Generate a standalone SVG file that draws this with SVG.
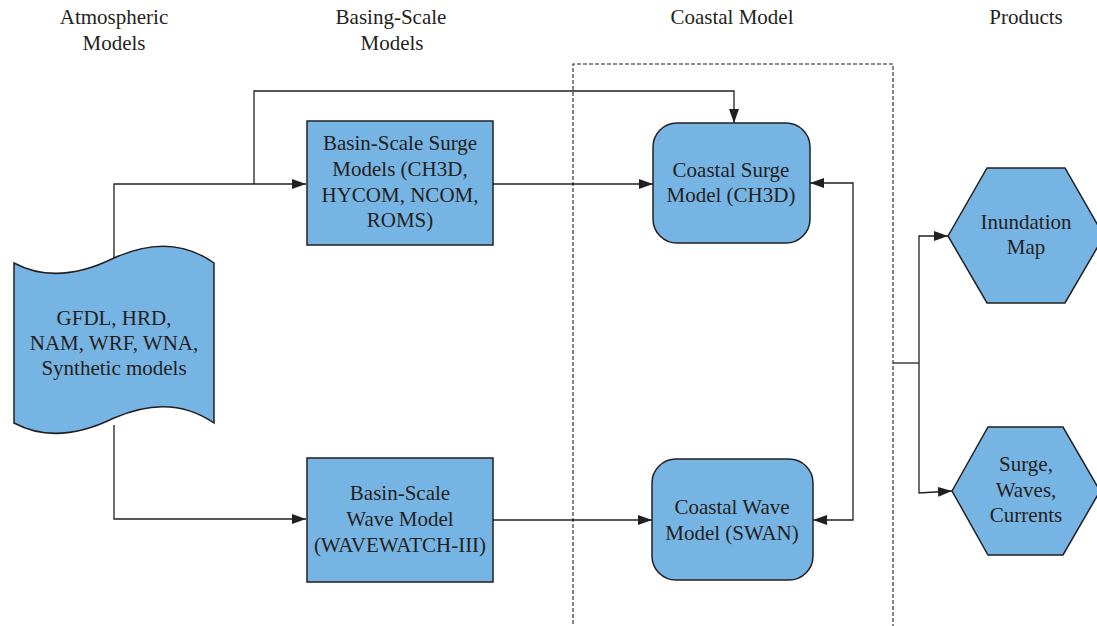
<svg xmlns="http://www.w3.org/2000/svg" width="1097" height="626" viewBox="0 0 1097 626">
<style>
.shape{fill:#76b4e4;stroke:#231f20;stroke-width:1.5}
.t{font-family:"Liberation Serif","Times New Roman",Times,serif;font-size:21px;fill:#231f20;text-anchor:middle}
.c{fill:none;stroke:#231f20;stroke-width:1.3}
.d{fill:none;stroke:#231f20;stroke-width:1.1;stroke-dasharray:4,2}
</style>
<defs>
<marker id="ah" viewBox="0 0 14 10" refX="14" refY="5" markerWidth="14" markerHeight="10" markerUnits="userSpaceOnUse" orient="auto">
<path d="M0,0 L14,5 L0,10 Z" fill="#231f20"/>
</marker>
</defs>
<g id="headers">
<text class="t" x="114" y="24">Atmospheric</text>
<text class="t" x="114" y="50">Models</text>
<text class="t" x="391" y="24">Basing-Scale</text>
<text class="t" x="392" y="50">Models</text>
<text class="t" x="732" y="24">Coastal Model</text>
<text class="t" x="1026" y="24">Products</text>
</g>
<g id="coastal-frame">
<path class="d" d="M573,630 L573,64 L893,64 L893,630"/>
</g>
<g id="connectors">
<path class="c" d="M114,260 L114,184 L306,184" marker-end="url(#ah)"/>
<path class="c" d="M254,184 L254,91 L734,91 L734,123" marker-end="url(#ah)"/>
<path class="c" d="M114,425 L114,519 L306,519" marker-end="url(#ah)"/>
<path class="c" d="M493,184 L653,184" marker-end="url(#ah)"/>
<path class="c" d="M493,520 L652,520" marker-end="url(#ah)"/>
<path class="c" d="M853,350 L853,183 L810,183" marker-end="url(#ah)"/>
<path class="c" d="M853,350 L853,520 L813,520" marker-end="url(#ah)"/>
<path class="c" d="M893,363 L919,363"/>
<path class="c" d="M919,363 L919,236 L948,236" marker-end="url(#ah)"/>
<path class="c" d="M919,363 L919,493 L952,491" marker-end="url(#ah)"/>
</g>
<g id="atmospheric">
<path class="shape" d="M14,263 Q57,286 114,258 Q171,232 214,263 L214,423 Q171,393 114,418 Q57,446 14,423 Z"/>
<text class="t" x="114" y="325">GFDL, HRD,</text>
<text class="t" x="114" y="350">NAM, WRF, WNA,</text>
<text class="t" x="114" y="375">Synthetic models</text>
</g>
<g id="basin-surge">
<rect class="shape" x="307" y="121" width="186" height="124"/>
<text class="t" x="400" y="150">Basin-Scale Surge</text>
<text class="t" x="400" y="176">Models (CH3D,</text>
<text class="t" x="400" y="202">HYCOM, NCOM,</text>
<text class="t" x="400" y="227">ROMS)</text>
</g>
<g id="basin-wave">
<rect class="shape" x="307" y="458" width="186" height="124"/>
<text class="t" x="400" y="500">Basin-Scale</text>
<text class="t" x="400" y="526">Wave Model</text>
<text class="t" x="400" y="552">(WAVEWATCH-III)</text>
</g>
<g id="coastal-surge">
<rect class="shape" x="653" y="123" width="157" height="120" rx="24" ry="24"/>
<text class="t" x="731" y="177">Coastal Surge</text>
<text class="t" x="731" y="202">Model (CH3D)</text>
</g>
<g id="coastal-wave">
<rect class="shape" x="652" y="459" width="161" height="121" rx="24" ry="24"/>
<text class="t" x="732" y="514">Coastal Wave</text>
<text class="t" x="732" y="540">Model (SWAN)</text>
</g>
<g id="inundation">
<polygon class="shape" points="948,236 987,168 1065,168 1104,236 1065,303 987,303"/>
<text class="t" x="1026" y="229">Inundation</text>
<text class="t" x="1026" y="254">Map</text>
</g>
<g id="surge-waves">
<polygon class="shape" points="952,491 988,427 1063,427 1100,491 1063,555 988,555"/>
<text class="t" x="1026" y="471">Surge,</text>
<text class="t" x="1026" y="497">Waves,</text>
<text class="t" x="1026" y="522">Currents</text>
</g>
</svg>
